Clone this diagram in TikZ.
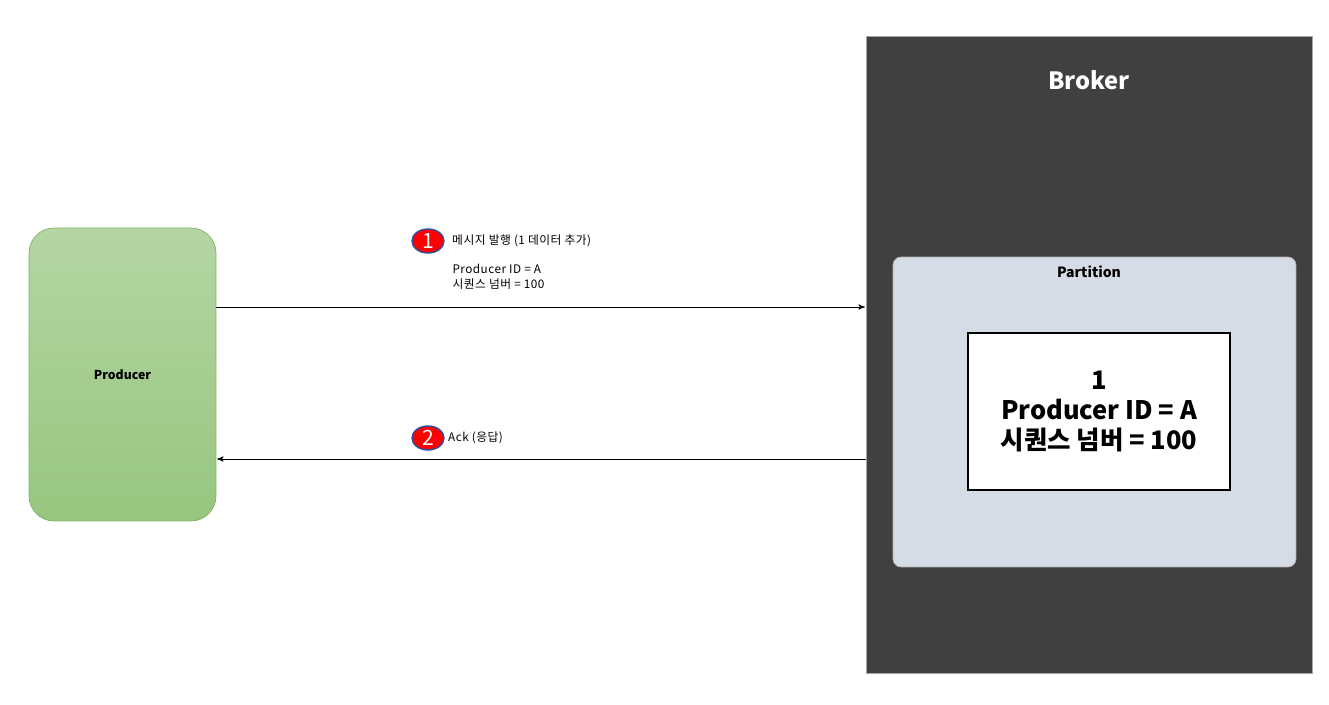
\documentclass[tikz,border=0pt]{standalone}
\usepackage{fontspec}
\setmainfont{Noto Sans CJK KR}
\newfontfamily\labelfont[LetterSpace=4]{Noto Sans CJK KR}
\usetikzlibrary{arrows,positioning,shapes.geometric}

\definecolor{prodtop}{HTML}{B5D5A3}
\definecolor{prodbot}{HTML}{97C67F}
\definecolor{prodline}{HTML}{82B366}
\definecolor{brokerfill}{HTML}{404040}
\definecolor{partfill}{HTML}{D6DCE5}
\definecolor{stepline}{HTML}{2F4F9F}

\begin{document}
\begin{tikzpicture}[x=0.02cm,y=-0.02cm,>=stealth',semithick,
    producerbox/.style={draw=prodline,thin,rounded corners=0.5cm,top color=prodtop,bottom color=prodbot,
                        minimum width=3.74cm,minimum height=5.86cm,font=\fontsize{7}{8}\selectfont\bfseries},
    brokerbox/.style={draw=gray!70,thin,fill=brokerfill,minimum width=8.92cm,minimum height=12.74cm},
    partbox/.style={draw=gray!60,thin,fill=partfill,rounded corners=0.16cm,minimum width=8.06cm,minimum height=6.2cm},
    recbox/.style={draw=black,line width=1.2pt,fill=white,minimum width=5.24cm,minimum height=3.14cm,
                   align=center,font=\fontsize{14.5}{17}\selectfont\bfseries},
    stepmark/.style={ellipse,draw=stepline,thick,fill=red,text=white,inner sep=0pt,
                     minimum width=0.64cm,minimum height=0.48cm,font=\fontsize{12}{12}\selectfont},
    msg/.style={align=left,inner sep=0pt,font=\labelfont\fontsize{6.7}{8.3}\selectfont},
    flow/.style={->,thin,shorten >=0.5pt}]

  \useasboundingbox[fill=white] (0,0) rectangle (1329,705);

  \node[producerbox] (producer) at (122.5,374.5) {Producer};
  \node[brokerbox]   (broker)   at (1089,354.5)  {};
  \node[text=white,font=\fontsize{13.5}{15}\selectfont\bfseries] (brokerlbl) at (1089,80) {Broker};
  \node[partbox]     (partition) at (1094.5,412) {};
  \node[font=\fontsize{8}{9}\selectfont\bfseries] (partlbl) at (1089,272) {Partition};
  \node[recbox]      (record)   at (1099,411.5) {1\\Producer ID = A\\시퀀스 넘버 = 100};

  \coordinate (m1) at (0,307);
  \coordinate (m2) at (0,459);

  \path[draw,flow] (producer.east |- m1) -- (broker.west |- m1);
  \path[draw,flow] (broker.west |- m2) -- (producer.east |- m2);

  \node[stepmark] (s1) at (428,241) {1};
  \node[msg,right=0.14cm of s1] (s1txt) {메시지 발행 (1 데이터 추가)};
  \node[msg,anchor=north west] (s1data) at (452,264) {Producer ID = A\\시퀀스 넘버 = 100};

  \node[stepmark] (s2) at (428,438) {2};
  \node[msg,right=0.06cm of s2] (s2txt) {Ack (응답)};

\end{tikzpicture}
\end{document}
